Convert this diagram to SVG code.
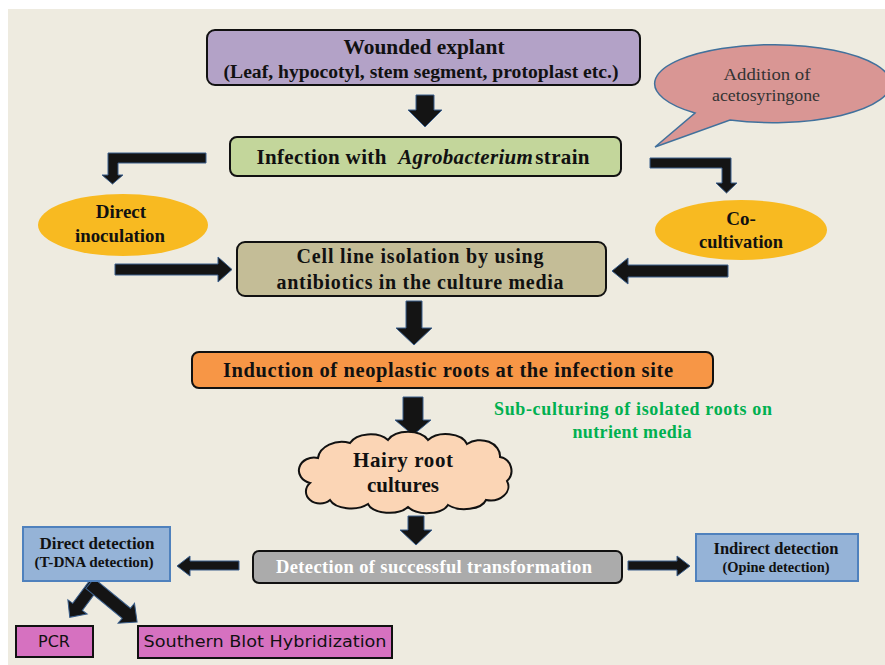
<svg xmlns="http://www.w3.org/2000/svg" width="885" height="665" viewBox="0 0 885 665">
<style>
.arr{fill:#141414;stroke:#3A5F8C;stroke-width:1;stroke-linejoin:miter}
.box{stroke:#111;stroke-width:2}
.t{font-family:"Liberation Serif","Times New Roman",serif;font-weight:bold;fill:#111;text-anchor:middle}
.c{font-family:"DejaVu Sans","Comic Sans MS",sans-serif;fill:#111;text-anchor:middle}
</style>
<rect x="0" y="0" width="885" height="665" fill="#ffffff"/>
<rect x="8" y="9" width="877" height="656" fill="#EEEBE0"/>

<g id="connectors">
  <polygon class="arr" points="416,95 434,95 434,110 442,110 425,127 408,110 416,110"/>
  <polygon class="arr" points="206,153 108,153 108,175 102,175 112.5,184 123,175 118,175 118,163 206,163"/>
  <polygon class="arr" points="650,158 731,158 731,183 737,183 726.5,193 716,183 722,183 722,168 650,168"/>
  <polygon class="arr" points="115,264 218,264 218,257 232,269.5 218,282 218,275 115,275"/>
  <polygon class="arr" points="728,265 628,265 628,258 612,271 628,284 628,277 728,277"/>
  <polygon class="arr" points="406,301 422,301 422,328 432,328 414,345 396,328 406,328"/>
  <polygon class="arr" points="403,397 423,397 423,420 431,420 413,435 395,420 403,420"/>
  <polygon class="arr" points="408,516 424,516 424,530 432,530 416,545 400,530 408,530"/>
  <polygon class="arr" points="239,561 190,561 190,556 177,566 190,576 190,570 239,570"/>
  <polygon class="arr" points="628,561 677,561 677,556 690,566 677,576 677,570 628,570"/>
  <polygon class="arr" transform="translate(93,586) rotate(126.6)" points="-4,-6 26,-6 26,-12 39,0 26,12 26,6 -4,6"/>
  <polygon class="arr" transform="translate(93,586) rotate(39.3)" points="-4,-6.5 43,-6.5 43,-13 57,0 43,13 43,6.5 -4,6.5"/>
</g>

<g id="wounded">
  <rect class="box" x="207" y="30" width="433" height="55" rx="8" fill="#B3A2C7"/>
  <text class="t" x="424" y="54" font-size="20" textLength="161" lengthAdjust="spacingAndGlyphs">Wounded explant</text>
  <text class="t" x="421" y="78" font-size="18" textLength="395" lengthAdjust="spacingAndGlyphs">(Leaf, hypocotyl, stem segment, protoplast etc.)</text>
</g>

<g id="infection">
  <rect class="box" x="230" y="137" width="391" height="39" rx="7" fill="#C3D69B"/>
  <text class="t" x="423" y="164" font-size="21" textLength="333" lengthAdjust="spacing">Infection with <tspan dx="6" font-style="italic">Agrobacterium</tspan><tspan dx="2">strain</tspan></text>
</g>

<g id="acetosyringone">
  <path d="M 695,113 A 118,39 0 1 1 730,120 L 655,147 Z" fill="#D99694" stroke="#41719C" stroke-width="1.5"/>
  <text x="767" y="80" font-family="Liberation Serif, serif" font-size="17.5" fill="#333" text-anchor="middle" textLength="87" lengthAdjust="spacingAndGlyphs">Addition of</text>
  <text x="766" y="101" font-family="Liberation Serif, serif" font-size="17.5" fill="#333" text-anchor="middle" textLength="108" lengthAdjust="spacingAndGlyphs">acetosyringone</text>
</g>

<g id="direct-inoculation">
  <ellipse cx="123" cy="225" rx="85" ry="31" fill="#F8BA21"/>
  <text class="t" x="121" y="218" font-size="19">Direct</text>
  <text class="t" x="120" y="242" font-size="19" textLength="90" lengthAdjust="spacingAndGlyphs">inoculation</text>
</g>

<g id="co-cultivation">
  <ellipse cx="741" cy="230" rx="86" ry="30" fill="#F8BA21"/>
  <text class="t" x="741" y="225" font-size="19">Co-</text>
  <text class="t" x="741" y="248" font-size="19" textLength="84" lengthAdjust="spacingAndGlyphs">cultivation</text>
</g>

<g id="cell-line">
  <rect class="box" x="237" y="242" width="369" height="54" rx="8" fill="#C4BD97"/>
  <text class="t" x="420" y="263" font-size="20" textLength="247" lengthAdjust="spacing">Cell line isolation by using</text>
  <text class="t" x="420" y="289" font-size="20" textLength="287" lengthAdjust="spacing">antibiotics in the culture media</text>
</g>

<g id="induction">
  <rect class="box" x="192" y="352" width="521" height="36" rx="7" fill="#F79646"/>
  <text class="t" x="448" y="377" font-size="20.5" textLength="450" lengthAdjust="spacing">Induction of neoplastic roots at the infection site</text>
</g>

<g id="subculturing">
  <text class="t" x="633" y="415" font-size="18" style="fill:#00B050" textLength="278" lengthAdjust="spacing">Sub-culturing of isolated roots on</text>
  <text class="t" x="632" y="438" font-size="18" style="fill:#00B050" textLength="119" lengthAdjust="spacing">nutrient media</text>
</g>

<g id="hairy-root">
  <path d="M 318,458 A 24,18 0 0 1 350,443 A 22,14 0 0 1 388,440 A 22,14 0 0 1 428,440 A 22,14 0 0 1 467,444 A 20,16 0 0 1 500,457 A 14,14 0 0 1 507,481 A 18,14 0 0 1 486,500 A 22,12 0 0 1 448,505 A 22,12 0 0 1 408,507 A 22,12 0 0 1 368,504 A 22,12 0 0 1 330,500 A 14,12 0 0 1 310,483 A 14,12 0 0 1 318,458 Z" fill="#FBD5B5" stroke="#111" stroke-width="2"/>
  <text class="t" x="403" y="467" font-size="21" textLength="100" lengthAdjust="spacing">Hairy root</text>
  <text class="t" x="403" y="492" font-size="21" textLength="72" lengthAdjust="spacing">cultures</text>
</g>

<g id="detection">
  <rect class="box" x="253" y="551" width="369" height="32" rx="6" fill="#ABABAB"/>
  <text class="t" x="434" y="573" font-size="18.5" style="fill:#fff" textLength="316" lengthAdjust="spacing">Detection of successful transformation</text>
</g>

<g id="direct-detection">
  <rect x="23" y="527" width="147" height="54" fill="#95B3D7" stroke="#4F81BD" stroke-width="2"/>
  <text class="t" x="97" y="549" font-size="16" textLength="115" lengthAdjust="spacingAndGlyphs">Direct detection</text>
  <text class="t" x="94" y="567" font-size="14" textLength="119" lengthAdjust="spacingAndGlyphs">(T-DNA detection)</text>
</g>

<g id="indirect-detection">
  <rect x="696" y="534" width="162" height="47" fill="#95B3D7" stroke="#4F81BD" stroke-width="2"/>
  <text class="t" x="776" y="554" font-size="16" textLength="125" lengthAdjust="spacingAndGlyphs">Indirect detection</text>
  <text class="t" x="776" y="572" font-size="14" textLength="107" lengthAdjust="spacingAndGlyphs">(Opine detection)</text>
</g>

<g id="pcr">
  <rect x="16" y="626" width="77" height="31" fill="#D671C0" stroke="#111" stroke-width="2"/>
  <text class="c" x="54" y="647" font-size="16">PCR</text>
</g>

<g id="southern-blot">
  <rect x="138" y="626" width="254" height="32" fill="#D671C0" stroke="#111" stroke-width="2"/>
  <text class="c" x="265" y="647" font-size="16" textLength="243" lengthAdjust="spacingAndGlyphs">Southern Blot Hybridization</text>
</g>
</svg>
